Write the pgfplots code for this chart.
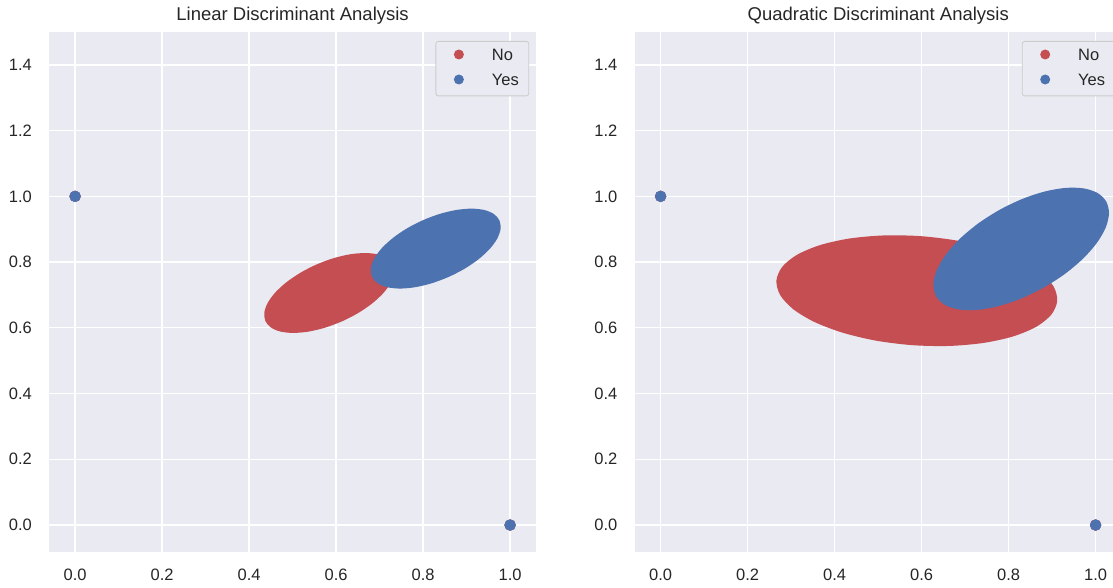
\documentclass[border=0pt]{standalone}
\usepackage{fontspec}
\setmainfont{Liberation Sans}
\usepackage{pgfplots}
\pgfplotsset{compat=1.18}

\definecolor{bgc}{HTML}{EAEAF2}
\definecolor{redc}{HTML}{C44E52}
\definecolor{bluec}{HTML}{4C72B0}
\definecolor{txt}{HTML}{262626}
\definecolor{legc}{HTML}{CCCCCC}

\pgfplotsset{
  darkgrid/.style={
    scale only axis,
    height=520bp,
    xmin=-0.06, ymin=-0.082, ymax=1.5,
    axis background/.style={fill=bgc},
    axis line style={draw=none},
    major tick length=0pt,
    grid=major,
    grid style={white, line width=1.3bp},
    xtick={0,0.2,0.4,0.6,0.8,1},
    ytick={0,0.2,0.4,0.6,0.8,1,1.2,1.4},
    /pgf/number format/fixed,
    /pgf/number format/fixed zerofill,
    /pgf/number format/precision=1,
    /pgf/number format/assume math mode=true,
    tick label style={font=\fontsize{16.5bp}{20bp}\selectfont, text=txt},
    xticklabel style={inner sep=0pt, yshift=-17bp},
    yticklabel style={inner sep=0pt, xshift=-17bp},
    every axis title/.style={at={(0.5,1)}, anchor=base, yshift=11.3bp,
      inner sep=0pt, font=\fontsize{18.5bp}{22bp}\selectfont, text=txt},
    legend style={anchor=north east, fill=bgc, draw=legc, line width=0.8bp,
      rounded corners=2.5bp, inner xsep=10bp, inner ysep=7bp,
      row sep=9.5bp, cells={anchor=base west},
      /tikz/every even column/.style={column sep=0pt},
      nodes={inner sep=0pt, text height=12bp, text depth=3.5bp,
        font=\fontsize{16.5bp}{20bp}\selectfont, text=txt}},
  },
  legmark/.style={legend image code/.code={
    \path[draw=none, fill=none] (-13bp,5.9bp) -- (33bp,5.9bp);
    \fill[#1, draw=none] (0bp,5.9bp) circle[radius=5bp];}},
  blob/.style={smooth, fill=#1, draw=none, forget plot},
}

\begin{document}
\begin{tikzpicture}
\useasboundingbox (0,0) rectangle (1113bp,588bp);

\begin{axis}[darkgrid, at={(49bp,36bp)}, anchor=south west,
  width=487.2bp, xmax=1.06,
  title={Linear Discriminant Analysis},
  legend style={at={(1,1)}, xshift=-7bp, yshift=-9bp}]
% No
\addplot[blob=redc] coordinates {
  (0.7331,0.7659)
  (0.7306,0.7912) (0.7182,0.8108) (0.6966,0.8232) (0.6673,0.8276)
  (0.6323,0.8237) (0.5941,0.8119) (0.5552,0.7928) (0.5182,0.7678)
  (0.4857,0.7385) (0.4599,0.7071) (0.4426,0.6756) (0.4349,0.6462)
  (0.4374,0.6208) (0.4498,0.6013) (0.4714,0.5888) (0.5007,0.5844)
  (0.5357,0.5883) (0.5739,0.6002) (0.6128,0.6193) (0.6498,0.6443)
  (0.6823,0.6735) (0.7081,0.7049) (0.7254,0.7364) (0.7331,0.7659)
  (0.7306,0.7912) (0.7182,0.8108)
};
% Yes
\addplot[blob=bluec] coordinates {
  (0.9781,0.9009)
  (0.9756,0.9262) (0.9632,0.9458) (0.9416,0.9582) (0.9123,0.9626)
  (0.8773,0.9587) (0.8391,0.9469) (0.8002,0.9278) (0.7632,0.9028)
  (0.7307,0.8735) (0.7049,0.8421) (0.6876,0.8106) (0.6799,0.7812)
  (0.6824,0.7558) (0.6948,0.7363) (0.7164,0.7238) (0.7457,0.7194)
  (0.7807,0.7233) (0.8189,0.7352) (0.8578,0.7543) (0.8948,0.7793)
  (0.9273,0.8085) (0.9531,0.8399) (0.9704,0.8714) (0.9781,0.9009)
  (0.9756,0.9262) (0.9632,0.9458)
};
\addplot[only marks, mark=*, mark size=5.5bp, redc, legmark=redc]
  coordinates {(0,1) (1,0)};
\addplot[only marks, mark=*, mark size=5.5bp, bluec, legmark=bluec]
  coordinates {(0,1) (1,0)};
\legend{No,Yes}
\end{axis}

\begin{axis}[darkgrid, at={(634.5bp,36bp)}, anchor=south west,
  width=478.5bp, xmax=1.04,
  title={Quadratic Discriminant Analysis},
  title style={at={(0.5095,1)}},
  legend style={at={(1,1)}, xshift=2.5bp, yshift=-9bp}]
% No
\addplot[blob=redc] coordinates {
  (0.8985,0.6406)
  (0.9118,0.6825) (0.9031,0.7265) (0.8730,0.7695) (0.8236,0.8087)
  (0.7581,0.8414) (0.6812,0.8654) (0.5979,0.8789) (0.5141,0.8811)
  (0.4353,0.8719) (0.3671,0.8519) (0.3139,0.8224) (0.2795,0.7854)
  (0.2662,0.7435) (0.2749,0.6995) (0.3050,0.6565) (0.3544,0.6173)
  (0.4199,0.5846) (0.4968,0.5606) (0.5801,0.5471) (0.6639,0.5449)
  (0.7427,0.5541) (0.8109,0.5741) (0.8641,0.6036) (0.8985,0.6406)
  (0.9118,0.6825) (0.9031,0.7265)
};
% Yes
\addplot[blob=bluec] coordinates {
  (1.0308,0.9481)
  (1.0246,0.9838) (1.0051,1.0097) (0.9735,1.0240) (0.9321,1.0258)
  (0.8837,1.0149) (0.8315,0.9921) (0.7792,0.9589) (0.7303,0.9177)
  (0.6881,0.8711) (0.6555,0.8224) (0.6347,0.7749) (0.6272,0.7319)
  (0.6334,0.6962) (0.6529,0.6703) (0.6845,0.6560) (0.7259,0.6542)
  (0.7743,0.6651) (0.8265,0.6879) (0.8788,0.7211) (0.9277,0.7623)
  (0.9699,0.8089) (1.0025,0.8576) (1.0233,0.9051) (1.0308,0.9481)
  (1.0246,0.9838) (1.0051,1.0097)
};
\addplot[only marks, mark=*, mark size=5.5bp, redc, legmark=redc]
  coordinates {(0,1) (1,0)};
\addplot[only marks, mark=*, mark size=5.5bp, bluec, legmark=bluec]
  coordinates {(0,1) (1,0)};
\legend{No,Yes}
\end{axis}
\end{tikzpicture}
\end{document}
